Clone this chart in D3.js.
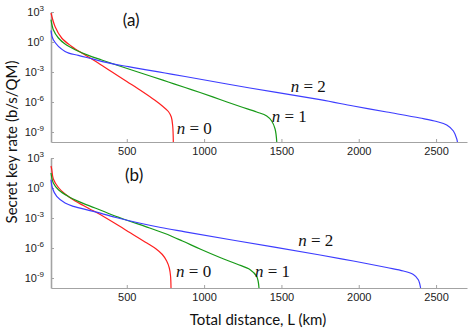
<!DOCTYPE html>
<html lang="en">
<head>
<meta charset="UTF-8">
<title>Secret key rate vs distance</title>
<script src="https://cdn.jsdelivr.net/npm/d3@7"></script>
<style>
  body { margin: 0; background: #fff; }
  svg { display: block; }
  .tick text { font-family: "Liberation Sans", Arial, sans-serif; font-size: 11px; fill: #222; }
  .axis path, .axis line { stroke: #a3a3a3; }
  .nlbl { font-family: "Liberation Serif", "Times New Roman", serif; font-size: 17px; fill: #111; }
  .tag { font-family: Lato, sans-serif; font-size: 17px; fill: #111; }
  .title { font-family: Lato, sans-serif; font-size: 15px; fill: #111; }
</style>
</head>
<body>
<script>
  // [total distance (km), log10 secret key rate (b/s/QM)]
  var a0 = [[10,2.9],[36,1.56],[79,0.4],[144,-0.44],[209,-1.1],[263,-1.6],[300,-1.95],[400,-2.95],
            [500,-3.95],[600,-4.95],[680,-5.8],[730,-6.4],[769,-6.95],[788,-7.5],[797,-8.4],[801,-10]];
  var a1 = [[10,2.23],[25,1.23],[58,0.4],[101,-0.2],[166,-0.77],[252,-1.34],[338,-1.8],[424,-2.25],
            [532,-2.8],[661,-3.45],[769,-4.0],[877,-4.55],[974,-5.05],[1103,-5.75],[1233,-6.45],
            [1340,-7.0],[1405,-7.4],[1437,-7.9],[1459,-8.7],[1470,-10]];
  var a2 = [[10,1.15],[25,0.23],[101,-0.94],[187,-1.34],[273,-1.67],[403,-2.17],[510,-2.47],[618,-2.77],
            [747,-3.1],[877,-3.45],[1296,-4.6],[1750,-5.77],[1965,-6.4],[2181,-7.0],[2396,-7.6],
            [2504,-7.95],[2569,-8.3],[2612,-8.9],[2634,-9.7],[2638,-10]];

  var b0 = [[10,2.2],[15,1.83],[25,0.9],[58,0.05],[101,-0.6],[166,-1.3],[219,-1.75],[260,-2.1],
            [310,-2.5],[420,-3.5],[525,-4.5],[630,-5.5],[690,-6.1],[730,-6.65],[758,-7.3],
            [775,-8.0],[783,-8.8],[786,-10]];
  var b1 = [[10,1.5],[25,0.5],[58,-0.17],[122,-0.84],[187,-1.34],[295,-2.0],[403,-2.67],[510,-3.27],
            [618,-3.84],[747,-4.55],[860,-5.3],[974,-6.1],[1103,-6.95],[1211,-7.6],[1298,-8.17],
            [1340,-8.84],[1355,-10]];
  var b2 = [[10,0.83],[19,0.0],[47,-0.84],[101,-1.5],[155,-1.84],[284,-2.34],[430,-2.95],[580,-3.5],
            [720,-3.95],[877,-4.38],[1200,-5.25],[1750,-6.7],[1965,-7.3],[2181,-7.95],[2289,-8.3],
            [2353,-8.65],[2385,-9.17],[2400,-10]];

  var xTicks = [500, 1000, 1500, 2000, 2500];
  var yTickExp = [3, 0, -3, -6, -9];
  var nNames = ['0', '1', '2'];
  var colors = ['#ff1f1f', '#179a17', '#3d3dff'];

  // label anchors in data space: [distance, log10 rate]
  var nPosA = [[823,-9.17],[1437,-8.04],[1560,-5.0]];
  var nPosB = [[819,-8.9],[1329,-8.9],[1609,-5.84]];

  var W = 469, H = 331;
  var svg = d3.select('body').append('svg').attr('width', W).attr('height', H);

  var x = d3.scaleLinear().domain([10, 2700]).range([51, 467]);

  var panels = [
    {top: 12, bottom: 142, curves: [a0, a1, a2], tag: '(a)', tagPos: [474, 1.63], nPos: nPosA},
    {top: 158, bottom: 288, curves: [b0, b1, b2], tag: '(b)', tagPos: [489, 0.73], nPos: nPosB}
  ];

  panels.forEach(function(p){
    var y = d3.scaleLog().domain([1e-10, 1e3]).range([p.bottom, p.top]);
    var g = svg.append('g');

    g.append('g').attr('class', 'axis')
      .attr('transform', 'translate(0,' + p.bottom + ')')
      .call(d3.axisBottom(x).tickValues(xTicks).tickFormat(d3.format('d'))
        .tickSizeInner(-3).tickSizeOuter(0).tickPadding(5));

    var ya = g.append('g').attr('class', 'axis')
      .attr('transform', 'translate(' + x.range()[0] + ',0)')
      .call(d3.axisLeft(y).tickValues(yTickExp.map(function(e){ return Math.pow(10, e); }))
        .tickSizeInner(-3).tickSizeOuter(0).tickPadding(7).tickFormat(''));
    ya.select('.domain').attr('stroke', '#c4c4c4').attr('stroke-width', 1.6);
    ya.selectAll('.tick text').each(function(d){
      var t = d3.select(this);
      t.append('tspan').text('10');
      t.append('tspan').attr('dy', -5).style('font-size', '8px').text(Math.round(Math.log10(d)));
    });

    var line = d3.line()
      .x(function(d){ return x(d[0]); })
      .y(function(d){ return y(Math.pow(10, d[1])); })
      .curve(d3.curveCatmullRom.alpha(0.5));

    g.selectAll('path.curve').data(p.curves).enter().append('path')
      .attr('class', 'curve')
      .attr('d', line)
      .attr('fill', 'none')
      .attr('stroke', function(d, i){ return colors[i]; })
      .attr('stroke-width', 1.2);

    g.append('text').attr('class', 'tag')
      .attr('x', x(p.tagPos[0])).attr('y', y(Math.pow(10, p.tagPos[1])))
      .text(p.tag);

    g.selectAll('text.nlbl').data(p.nPos).enter().append('text')
      .attr('class', 'nlbl')
      .attr('x', function(d){ return x(d[0]); })
      .attr('y', function(d){ return y(Math.pow(10, d[1])); })
      .each(function(d, i){
        var t = d3.select(this);
        t.append('tspan').style('font-style', 'italic').text('n');
        t.append('tspan').text(' = ' + nNames[i]);
      });
  });

  svg.append('text').attr('class', 'title')
    .attr('text-anchor', 'middle')
    .attr('x', 258).attr('y', 325)
    .text('Total distance, L (km)');

  svg.append('text').attr('class', 'title')
    .attr('text-anchor', 'middle')
    .attr('transform', 'translate(17,142) rotate(-90)')
    .text('Secret key rate  (b/s/QM)');
</script>
</body>
</html>
